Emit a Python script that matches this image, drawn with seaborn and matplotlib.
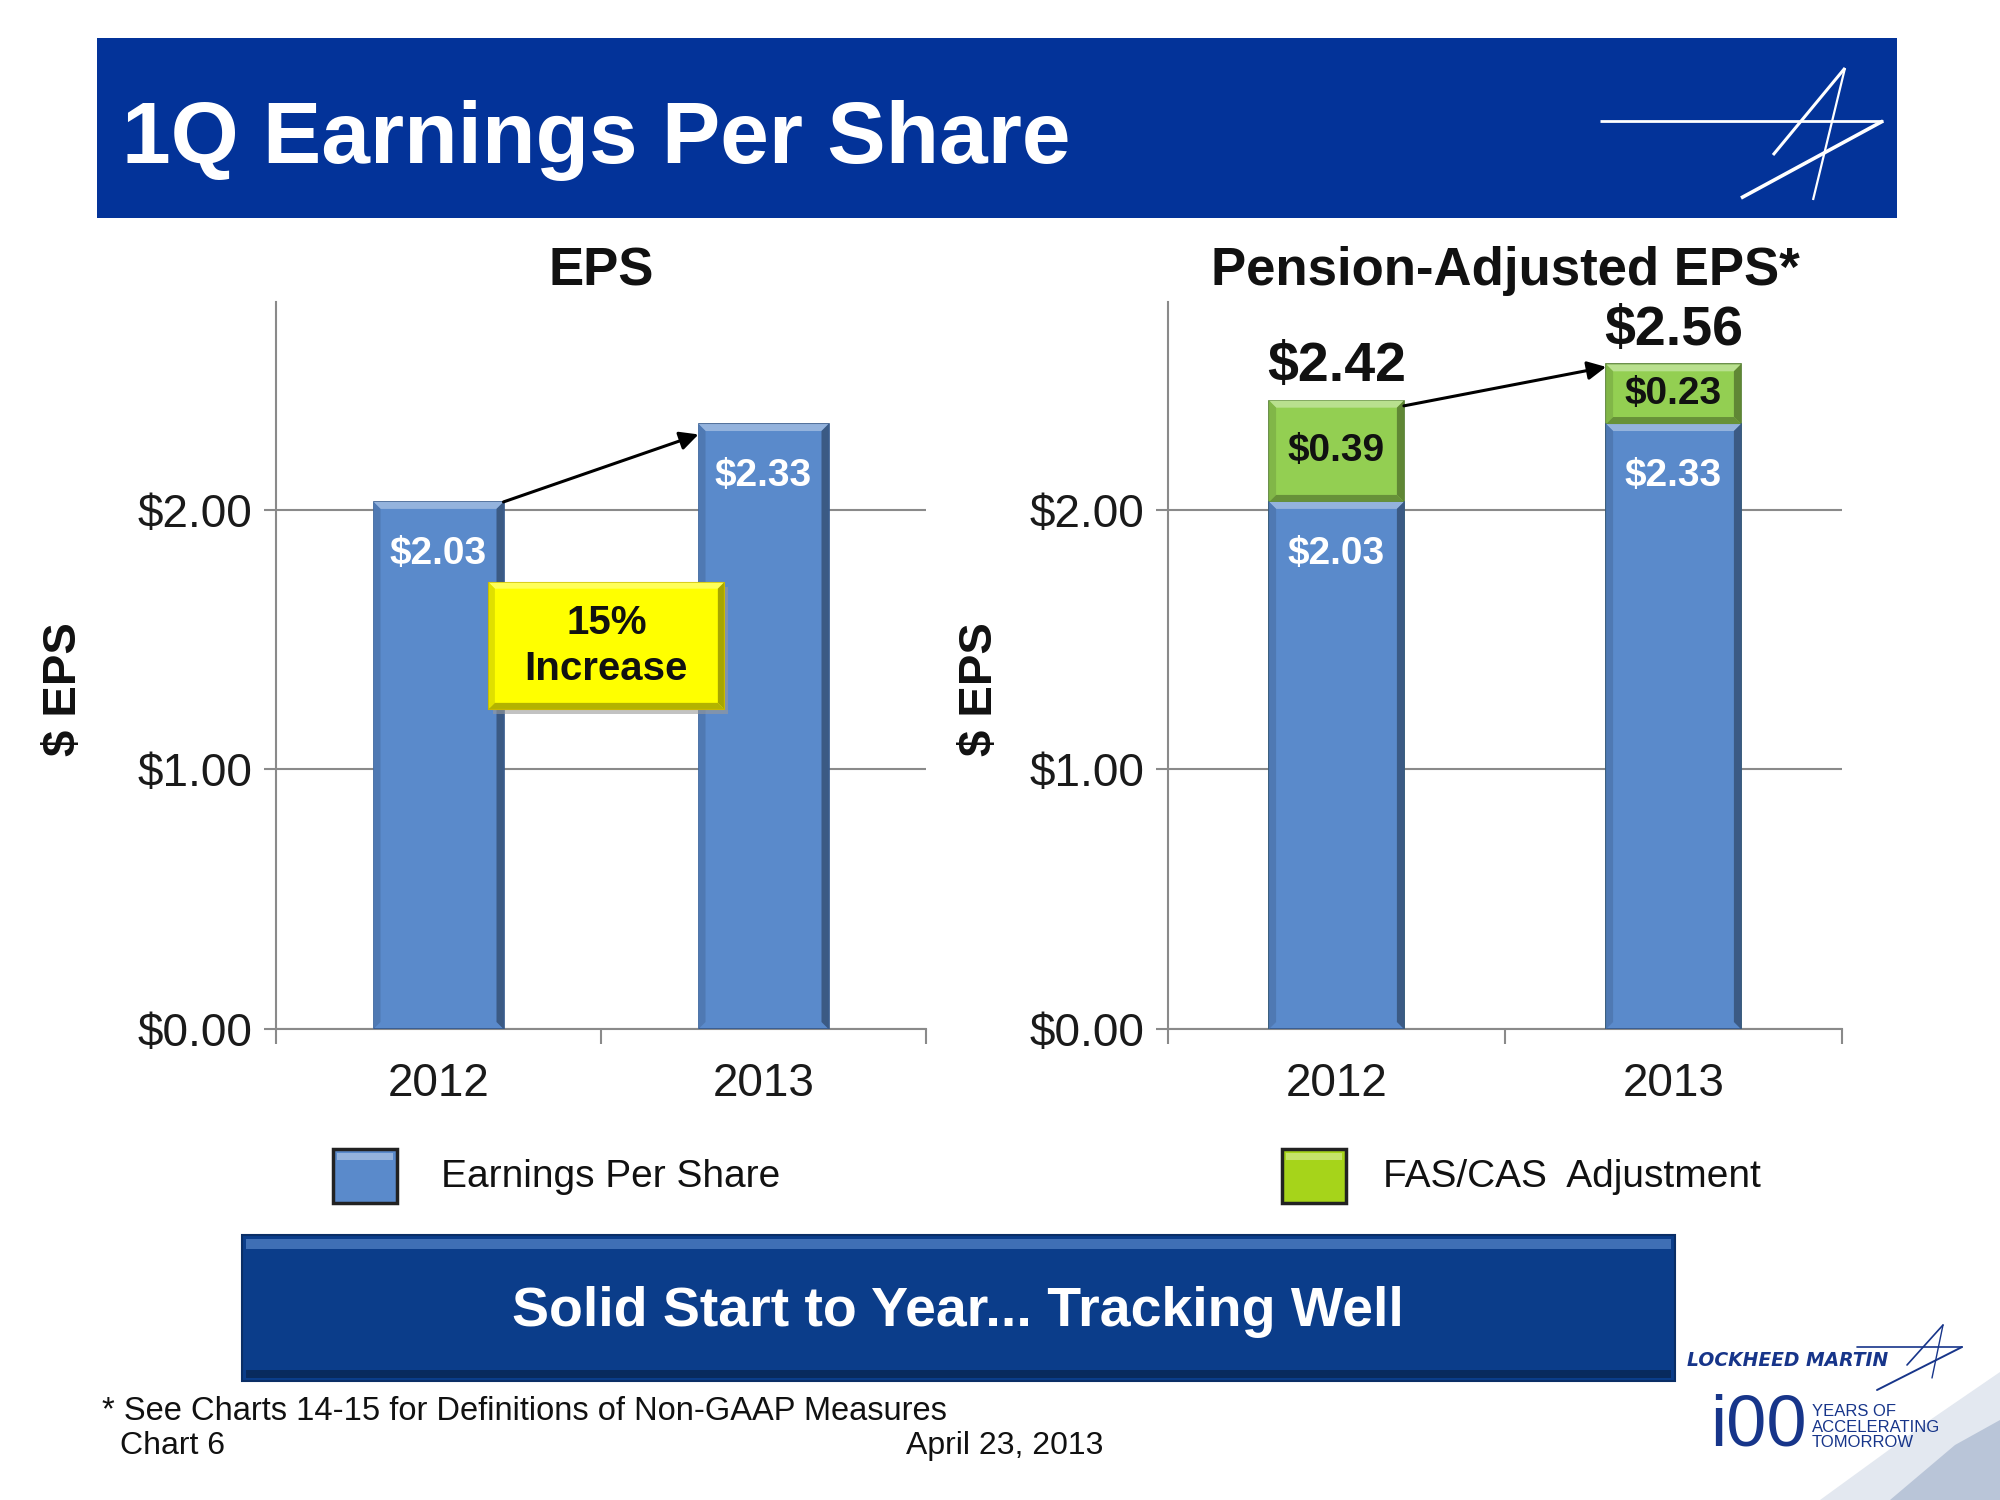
import numpy as np
import pandas as pd
import matplotlib
matplotlib.use("Agg")
import matplotlib.pyplot as plt
import seaborn as sns
from matplotlib.patches import Rectangle, Polygon
from matplotlib.lines import Line2D
import matplotlib.colors as mcolors

# ---------------- data ----------------
years = ["2012", "2013"]
eps = [2.03, 2.33]
fas_cas_adj = [0.39, 0.23]
pension_eps = [2.42, 2.56]
y_ticks = [0.0, 1.0, 2.0]
y_tick_labels = ["$0.00", "$1.00", "$2.00"]
growth_label = "15%\nIncrease"
legend_labels = ["Earnings Per Share", "FAS/CAS  Adjustment"]

BLUE = "#5A8ACB"
GREEN = "#93CF52"
NAVY = "#033399"
BANNER2 = "#0B3D8A"
LOGO = "#17358A"

sns.set_theme(style="white")
plt.rcParams["font.family"] = ["Liberation Sans Narrow", "Liberation Sans", "DejaVu Sans"]

W, H = 2000, 1500
fig = plt.figure(figsize=(20, 15), dpi=100)
fig.patch.set_facecolor("white")


def fx(x):
    return x / W


def fy(y):
    return 1 - y / H


def mix(c, other, t):
    a = np.array(mcolors.to_rgb(c))
    b = np.array(mcolors.to_rgb(other))
    return tuple(a * (1 - t) + b * t)


df = pd.DataFrame({"year": years, "eps": eps, "adj": fas_cas_adj, "total": pension_eps})

ax1 = fig.add_axes([fx(276), fy(1029), (926 - 276) / W, (1029 - 302) / H])
ax2 = fig.add_axes([fx(1168), fy(1029), (1842 - 1168) / W, (1029 - 302) / H])

sns.barplot(data=df, x="year", y="eps", ax=ax1, color=BLUE, width=0.4,
            saturation=1, errorbar=None, edgecolor="#34578a", linewidth=1.2, zorder=3)
sns.barplot(data=df, x="year", y="total", ax=ax2, color=GREEN, width=0.4,
            saturation=1, errorbar=None, edgecolor="#4f7a2a", linewidth=1.2, zorder=3)
sns.barplot(data=df, x="year", y="eps", ax=ax2, color=BLUE, width=0.4,
            saturation=1, errorbar=None, edgecolor="#34578a", linewidth=1.2, zorder=3)

YMAX = 2.8


def style_axes(ax, title):
    ax.set_xlim(-0.5, 1.5)
    ax.set_ylim(0, YMAX)
    ax.set_yticks(y_ticks, y_tick_labels)
    ax.set_xticks(range(len(years)), years)
    ax.set_xticks([-0.5, 0.5, 1.5], minor=True)
    ax.yaxis.grid(True, color="#8a8a8a", lw=1.5, zorder=0)
    ax.xaxis.grid(False)
    ax.set_axisbelow(True)
    for s in ["top", "right"]:
        ax.spines[s].set_visible(False)
    for s in ["left", "bottom"]:
        ax.spines[s].set_color("#8a8a8a")
        ax.spines[s].set_linewidth(1.5)
    ax.tick_params(axis="y", which="major", length=9, width=1.5, color="#8a8a8a",
                   labelsize=33, pad=8, labelcolor="#1a1a1a", left=True)
    ax.tick_params(axis="x", which="major", length=0, labelsize=33, pad=24,
                   labelcolor="#1a1a1a")
    ax.tick_params(axis="x", which="minor", length=11, width=1.5, color="#8a8a8a",
                   direction="out", bottom=True)
    ax.set_xlabel("")
    ax.set_ylabel("")
    ax.set_title(title, fontsize=38, fontweight="bold", pad=12, color="#111111")


style_axes(ax1, "EPS")
style_axes(ax2, "Pension-Adjusted EPS*")

for ax, xpos in [(ax1, 64), (ax2, 980)]:
    fig.text(fx(xpos), fy(689), "$ EPS", rotation=90, ha="center", va="center",
             fontsize=34, fontweight="bold", color="#111111")


def bevel(ax, x0, y0, x1, y1, base, b=7, sides=("top", "right", "left", "bottom")):
    pos = ax.get_position()
    pxx = pos.width * W / (ax.get_xlim()[1] - ax.get_xlim()[0])
    pxy = pos.height * H / (ax.get_ylim()[1] - ax.get_ylim()[0])
    dx, dy = b / pxx, b / pxy
    polys = {
        "top": ([(x0, y1), (x1, y1), (x1 - dx, y1 - dy), (x0 + dx, y1 - dy)], mix(base, "white", 0.35)),
        "right": ([(x1, y1), (x1, y0), (x1 - dx, y0 + dy), (x1 - dx, y1 - dy)], mix(base, "black", 0.35)),
        "left": ([(x0, y1), (x0 + dx, y1 - dy), (x0 + dx, y0 + dy), (x0, y0)], mix(base, "black", 0.12)),
        "bottom": ([(x0, y0), (x0 + dx, y0 + dy), (x1 - dx, y0 + dy), (x1, y0)], mix(base, "black", 0.3)),
    }
    for s in sides:
        pts, col = polys[s]
        ax.add_patch(Polygon(pts, closed=True, facecolor=col, edgecolor="none", zorder=4))


# bevels and labels for left chart
for i, p in enumerate(ax1.patches[:2]):
    x0, w, h = p.get_x(), p.get_width(), p.get_height()
    bevel(ax1, x0, 0, x0 + w, h, BLUE, sides=("top", "right", "left"))
    ax1.text(x0 + w / 2, h - 0.2, f"${eps[i]:.2f}", ha="center", va="center",
             color="white", fontsize=28, fontweight="bold", zorder=6)

# right chart
green_patches = ax2.patches[:2]
blue_patches = ax2.patches[2:4]
for i in range(2):
    gp, bp = green_patches[i], blue_patches[i]
    x0, w = bp.get_x(), bp.get_width()
    bevel(ax2, x0, 0, x0 + w, bp.get_height(), BLUE, sides=("top", "right", "left"))
    bevel(ax2, x0, bp.get_height(), x0 + w, gp.get_height(), GREEN)
    ax2.text(x0 + w / 2, eps[i] - 0.2, f"${eps[i]:.2f}", ha="center", va="center",
             color="white", fontsize=28, fontweight="bold", zorder=6)
    ax2.text(x0 + w / 2, eps[i] + fas_cas_adj[i] / 2, f"${fas_cas_adj[i]:.2f}",
             ha="center", va="center", color="#111111", fontsize=28, fontweight="bold", zorder=6)
    ax2.text(x0 + w / 2, pension_eps[i] + 0.13, f"${pension_eps[i]:.2f}",
             ha="center", va="center", color="#111111", fontsize=40, fontweight="bold",
             zorder=6, clip_on=False)

# arrows
p0, p1 = ax1.patches[0], ax1.patches[1]
ax1.annotate("", xy=(p1.get_x(), eps[1] - 0.04), xytext=(p0.get_x() + p0.get_width(), eps[0]),
             arrowprops=dict(arrowstyle="-|>", color="black", lw=2.2, mutation_scale=28,
                             shrinkA=0, shrinkB=0), zorder=7)
g0, g1 = green_patches
ax2.annotate("", xy=(g1.get_x(), pension_eps[1] - 0.01), xytext=(g0.get_x() + g0.get_width(), pension_eps[0] - 0.02),
             arrowprops=dict(arrowstyle="-|>", color="black", lw=2.2, mutation_scale=28,
                             shrinkA=0, shrinkB=0), zorder=7)

# yellow callout box
bx0, by0, bx1, by1 = 0.155, 1.233, 0.878, 1.719
ax1.add_patch(Rectangle((bx0 + 0.012, by0 - 0.018), bx1 - bx0, by1 - by0, facecolor="#9a9a9a",
                        edgecolor="none", zorder=7, alpha=0.6))
ax1.add_patch(Rectangle((bx0, by0), bx1 - bx0, by1 - by0, facecolor="#FFFF00",
                        edgecolor="#c9b800", lw=1.5, zorder=8))
bevel(ax1, bx0, by0, bx1, by1, "#FFFF00", b=6)
for pt in ax1.patches[-4:]:
    pt.set_zorder(8.5)
ax1.text((bx0 + bx1) / 2, (by0 + by1) / 2, growth_label, ha="center", va="center",
         fontsize=29, fontweight="bold", color="#111111", linespacing=1.25, zorder=9)

# ---------------- header banner ----------------
fig.add_artist(Rectangle((fx(97), fy(218)), (1897 - 97) / W, (218 - 38) / H,
                         transform=fig.transFigure, facecolor=NAVY, edgecolor="none", zorder=0))
fig.text(fx(122), fy(163), "1Q Earnings Per Share", color="white", fontsize=63,
         fontweight="bold", va="baseline", ha="left")

star = [((1600, 121), (1883, 121), 2.0), ((1883, 121), (1741, 198), 2.6),
        ((1773, 155), (1845, 68), 2.2), ((1845, 68), (1813, 200), 1.6)]
for (xa, ya), (xb, yb), lw in star:
    fig.add_artist(Line2D([fx(xa), fx(xb)], [fy(ya), fy(yb)], transform=fig.transFigure,
                          color="white", lw=lw, solid_capstyle="butt"))

# ---------------- legend ----------------
for (lx, tx), col, lab in [((333, 441), BLUE, legend_labels[0]), ((1282, 1383), "#A6D41A", legend_labels[1])]:
    fig.add_artist(Rectangle((fx(lx), fy(1203)), 64 / W, 54 / H, transform=fig.transFigure,
                             facecolor=col, edgecolor="#222222", lw=2.5))
    fig.add_artist(Rectangle((fx(lx + 4), fy(1160)), 56 / W, 7 / H, transform=fig.transFigure,
                             facecolor=mix(col, "white", 0.35), edgecolor="none"))
    fig.text(fx(tx), fy(1177), lab, fontsize=28, va="center", ha="left", color="#111111")

# ---------------- bottom banner ----------------
fig.add_artist(Rectangle((fx(242), fy(1381)), (1675 - 242) / W, (1381 - 1235) / H,
                         transform=fig.transFigure, facecolor=BANNER2, edgecolor="#0a2e66", lw=1.5))
fig.add_artist(Rectangle((fx(246), fy(1249)), (1671 - 246) / W, 10 / H,
                         transform=fig.transFigure, facecolor="#3f6fb5", edgecolor="none"))
fig.add_artist(Rectangle((fx(246), fy(1378)), (1671 - 246) / W, 8 / H,
                         transform=fig.transFigure, facecolor="#082a5e", edgecolor="none"))
fig.text(fx(958), fy(1312), "Solid Start to Year... Tracking Well", color="white",
         fontsize=40, fontweight="bold", ha="center", va="center")

# ---------------- footer ----------------
fig.text(fx(102), fy(1411), "* See Charts 14-15 for Definitions of Non-GAAP Measures",
         fontsize=23.5, va="center", ha="left", color="#111111")
fig.text(fx(120), fy(1446), "Chart 6", fontsize=23, va="center", ha="left", color="#111111")
fig.text(fx(906), fy(1446), "April 23, 2013", fontsize=23, va="center", ha="left", color="#111111")

# swoosh bottom-right
fig.add_artist(Polygon([(fx(1820), fy(1500)), (fx(1930), fy(1420)), (fx(2000), fy(1372)),
                        (fx(2000), fy(1500))], closed=True, transform=fig.transFigure,
                       facecolor="#e3e8f0", edgecolor="none", zorder=0))
fig.add_artist(Polygon([(fx(1890), fy(1500)), (fx(1955), fy(1445)), (fx(2000), fy(1420)),
                        (fx(2000), fy(1500))], closed=True, transform=fig.transFigure,
                       facecolor="#b9c5d8", edgecolor="none", zorder=0))

# Lockheed Martin logo
fig.text(fx(1687), fy(1360), "LOCKHEED MARTIN", fontsize=13.5, fontweight="bold",
         style="italic", color=LOGO, va="center", ha="left", family=["DejaVu Sans"])
logo_star = [((1857, 1347), (1962, 1347), 1.2), ((1962, 1347), (1877, 1390), 1.4),
             ((1907, 1365), (1943, 1325), 1.2), ((1943, 1325), (1932, 1378), 1.0)]
for (xa, ya), (xb, yb), lw in logo_star:
    fig.add_artist(Line2D([fx(xa), fx(xb)], [fy(ya), fy(yb)], transform=fig.transFigure,
                          color=LOGO, lw=lw))
fig.text(fx(1710), fy(1427), "i00", fontsize=52, color=LOGO, va="center", ha="left")
fig.text(fx(1812), fy(1427), "YEARS OF\nACCELERATING\nTOMORROW", fontsize=12, color=LOGO,
         va="center", ha="left", linespacing=1.05)

fig.savefig("out.png", dpi=100, facecolor="white")
